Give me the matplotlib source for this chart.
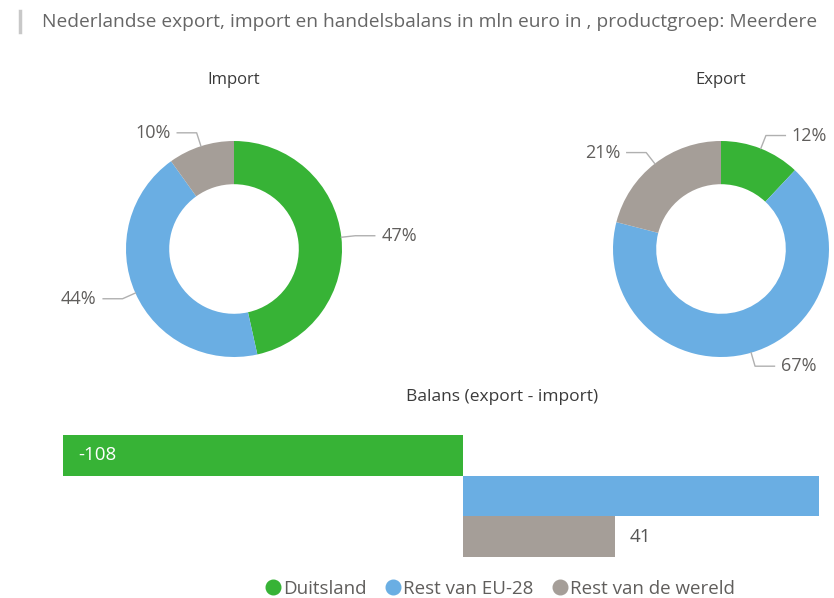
import numpy as np
import matplotlib
matplotlib.use("Agg")
import matplotlib.pyplot as plt
from matplotlib.lines import Line2D

plt.rcParams['font.family'] = ['Open Sans', 'DejaVu Sans']

# data
regions = ['Duitsland', 'Rest van EU-28', 'Rest van de wereld']
colors = ['#37B336', '#6AAEE3', '#A59E98']
import_share = [47, 44, 10]
export_share = [12, 67, 21]
balans = [-108, 96, 41]

title = 'Nederlandse export, import en handelsbalans in mln euro in , productgroep: Meerdere'

W, H = 834, 598
fig = plt.figure(figsize=(W / 100, H / 100), dpi=100)
fig.patch.set_facecolor('white')

label_color = '#605E5C'
line_color = '#B0B0B0'


def px_axes(x0, y0, w, h):
    # axes placed by pixel box (top-left origin)
    return fig.add_axes([x0 / W, 1 - (y0 + h) / H, w / W, h / H])


def donut(cx, cy, shares, name):
    R = 108.0
    half = 180.0
    ax = px_axes(cx - half, cy - half, 2 * half, 2 * half)
    wedges, _ = ax.pie(shares, colors=colors, startangle=90, counterclock=False,
                       radius=1.0, wedgeprops=dict(width=0.4, edgecolor='none'))
    lim = half / R
    ax.set_xlim(-lim, lim)
    ax.set_ylim(-lim, lim)
    ax.axis('off')
    for w, s in zip(wedges, shares):
        mid = np.deg2rad((w.theta1 + w.theta2) / 2)
        x1, y1 = np.cos(mid), np.sin(mid)
        x2, y2 = 1.13 * np.cos(mid), 1.13 * np.sin(mid)
        side = 1 if x2 >= 0 else -1
        x3 = x2 + side * 0.18
        ax.plot([x1, x2, x3], [y1, y2, y2], color=line_color, lw=1, clip_on=False)
        ax.text(x3 + side * 0.06, y2, f'{s}%', ha='left' if side > 0 else 'right',
                va='center', fontsize=13, color=label_color, clip_on=False)
    ax.text(0, (cy - 80) / R, name, ha='center', va='center', fontsize=12,
            color='#3A3A3A', clip_on=False)
    return ax


donut(234, 249, import_share, 'Import')
donut(721, 249, export_share, 'Export')

# balance bars
bx = px_axes(63, 435, 755.5, 122)
y = np.arange(len(balans))
bx.barh(y, balans, height=1.0, color=colors, edgecolor='none')
bx.set_xlim(min(balans), max(balans))
bx.set_ylim(len(balans) - 0.5, -0.5)
bx.axis('off')
span = max(balans) - min(balans)
for yi, v in zip(y, balans):
    if v < 0:
        bx.text(v + span * 0.02, yi, f'{v}', ha='left', va='center',
                fontsize=13.5, color='white', clip_on=False)
    else:
        bx.text(v + span * 0.02, yi, f'{v}', ha='left', va='center',
                fontsize=13.5, color='#555555', clip_on=False)

fig.text(502 / W, 1 - 397 / H, 'Balans (export - import)', ha='center', va='center',
         fontsize=12.5, color='#3A3A3A')

# title with left accent bar
fig.add_artist(Line2D([20 / W, 20 / W], [1 - 11 / H, 1 - 32 / H],
                      color='#C8C8C8', lw=2.5, transform=fig.transFigure))
fig.text(42 / W, 1 - 22 / H, title, ha='left', va='center', fontsize=13.8,
         color='#666666')

handles = [Line2D([], [], marker='o', linestyle='none', markersize=10.5,
                  markerfacecolor=c, markeredgecolor=c) for c in colors]
fig.legend(handles, regions, loc='center', bbox_to_anchor=(499 / W, 1 - 589 / H),
           ncol=3, frameon=False, fontsize=13.5, labelcolor=label_color,
           handletextpad=0.05, columnspacing=0.9, handlelength=1.0, borderaxespad=0)

fig.savefig('out.png', dpi=100, facecolor='white')
